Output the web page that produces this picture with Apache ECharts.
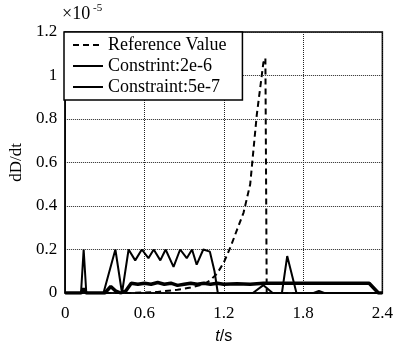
<!DOCTYPE html>
<html>
<head>
<meta charset="utf-8">
<script src="https://cdn.jsdelivr.net/npm/echarts@6/dist/echarts.min.js"></script>
<style>
  html, body { margin: 0; padding: 0; background: #fff; }
  #chart { width: 396px; height: 350px; }
</style>
</head>
<body>
<div id="chart"></div>
<script>
// values in units of 1e-5, time in seconds
const refT = [0, 0.5, 0.7, 0.85, 0.95, 1.05, 1.1, 1.15, 1.2, 1.25, 1.3, 1.35, 1.4, 1.45, 1.5, 1.515, 1.525, 2.4];
const refV = [0, 0, 0.005, 0.015, 0.025, 0.04, 0.06, 0.09, 0.14, 0.21, 0.29, 0.37, 0.5, 0.82, 1.06, 1.08, 0, 0];

const c2T = [0, 0.12, 0.14, 0.16, 0.29, 0.38, 0.43, 0.48, 0.53, 0.58, 0.63, 0.67, 0.72, 0.76, 0.82, 0.87, 0.92, 0.96, 0.995, 1.045, 1.095, 1.13, 1.155, 1.42, 1.5, 1.57, 1.64, 1.68, 1.75, 1.88, 1.92, 1.96, 2.4];
const c2V = [0, 0, 0.2, 0, 0, 0.2, 0, 0.2, 0.15, 0.2, 0.16, 0.2, 0.15, 0.2, 0.12, 0.2, 0.16, 0.2, 0.13, 0.2, 0.19, 0.1, 0, 0, 0.036, 0, 0, 0.17, 0, 0, 0.01, 0, 0];

const c5T = [0, 0.12, 0.14, 0.16, 0.3, 0.345, 0.38, 0.42, 0.46, 0.5, 0.55, 0.6, 0.65, 0.7, 0.75, 0.8, 0.85, 0.9, 0.95, 1.0, 1.05, 1.1, 1.15, 1.2, 1.3, 1.4, 1.5, 1.6, 1.8, 2.0, 2.3, 2.37, 2.4];
const c5V = [0, 0, 0.02, 0, 0, 0.03, 0.01, 0, 0.01, 0.045, 0.04, 0.045, 0.04, 0.048, 0.04, 0.045, 0.035, 0.04, 0.045, 0.04, 0.045, 0.04, 0.045, 0.04, 0.042, 0.04, 0.045, 0.045, 0.045, 0.045, 0.045, 0, 0];

const xTicks = [0, 0.6, 1.2, 1.8, 2.4];
const yTicks = [0, 0.2, 0.4, 0.6, 0.8, 1, 1.2];

const legendNames = ['Reference Value', 'Constrint:2e-6', 'Constraint:5e-7'];

const pairs = (t, v) => t.map((x, i) => [x, v[i]]);

const FONT = 'Liberation Serif';
const chart = echarts.init(document.getElementById('chart'));

chart.setOption({
  animation: false,
  backgroundColor: '#fff',
  textStyle: { fontFamily: FONT, color: '#000' },
  grid: {
    left: 64, right: 12, top: 32, bottom: 52,
    show: true, borderColor: '#000', borderWidth: 1.5
  },
  legend: {
    data: legendNames,
    orient: 'vertical',
    left: 64, top: 32,
    padding: [4, 16, 4, 8],
    itemGap: 3,
    itemWidth: 30,
    itemHeight: 15,
    itemStyle: { opacity: 0 },
    backgroundColor: '#fff',
    borderColor: '#000',
    borderWidth: 1.5,
    borderRadius: 0,
    textStyle: { fontFamily: FONT, fontSize: 18, color: '#000' }
  },
  graphic: [
    { type: 'text', left: 62, top: 5,
      style: { text: '×10', font: '18px "Liberation Serif"', fill: '#000' } },
    { type: 'text', left: 93, top: 3,
      style: { text: '-5', font: '11px "Liberation Serif"', fill: '#000' } }
  ],
  xAxis: {
    type: 'value', min: 0, max: 2.4, interval: 0.6,
    name: '{i|t}/s',
    nameLocation: 'middle', nameGap: 36,
    nameTextStyle: { fontFamily: 'Liberation Sans', fontSize: 16, color: '#000',
      rich: { i: { fontFamily: 'Liberation Sans', fontStyle: 'italic', fontSize: 16, color: '#000' } } },
    axisLine: { lineStyle: { color: '#000', width: 1.5 } },
    axisTick: { show: false },
    axisLabel: { fontFamily: FONT, fontSize: 17, color: '#000', margin: 12,
      formatter: v => xTicks.includes(+v.toFixed(1)) ? String(+v.toFixed(1)) : '' },
    splitLine: { show: true, lineStyle: { color: '#222', type: 'dotted', width: 1 } }
  },
  yAxis: {
    type: 'value', min: 0, max: 1.2, interval: 0.2,
    name: 'dD/dt',
    nameLocation: 'middle', nameGap: 40,
    nameTextStyle: { fontFamily: FONT, fontSize: 17, color: '#000' },
    axisLine: { show: true, lineStyle: { color: '#000', width: 1.5 } },
    axisTick: { show: false },
    axisLabel: { fontFamily: FONT, fontSize: 17, color: '#000', margin: 8,
      formatter: v => yTicks.includes(+v.toFixed(1)) ? String(+v.toFixed(1)) : '' },
    splitLine: { show: true, lineStyle: { color: '#222', type: 'dotted', width: 1 } }
  },
  series: [
    {
      name: legendNames[0], type: 'line', data: pairs(refT, refV),
      showSymbol: false, symbol: 'none',
      lineStyle: { color: '#000', width: 2, type: [6, 4] }, itemStyle: { color: '#000' }
    },
    {
      name: legendNames[1], type: 'line', data: pairs(c2T, c2V),
      showSymbol: false, symbol: 'none',
      lineStyle: { color: '#000', width: 2 }, itemStyle: { color: '#000' }
    },
    {
      name: legendNames[2], type: 'line', data: pairs(c5T, c5V),
      showSymbol: false, symbol: 'none',
      lineStyle: { color: '#000', width: 3.5 }, itemStyle: { color: '#000' }
    }
  ]
});
</script>
</body>
</html>
